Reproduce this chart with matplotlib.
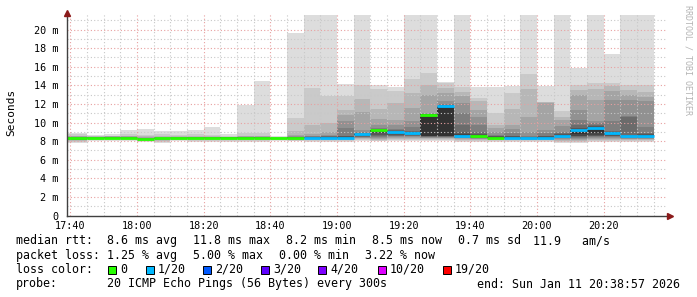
import numpy as np
import matplotlib
matplotlib.use("Agg")
import matplotlib.pyplot as plt
from matplotlib.patches import Rectangle

# minutes after 17:40 where each 5-minute column starts (first one begins at the left edge)
col_start = [-1, 5, 10, 15, 20, 25, 30, 35, 40, 45, 50, 55, 60, 65, 70, 75, 80, 85,
             90, 95, 100, 105, 110, 115, 120, 125, 130, 135, 140, 145, 150, 155, 160, 165, 170]

# median rtt per column (ms) and lost pings out of 20
median = [8.30, 8.33, 8.35, 8.35, 8.20, 8.30, 8.33, 8.35, 8.35, 8.37, 8.37, 8.37,
          8.30, 8.30, 8.35, 8.35, 8.35, 8.73, 9.16, 8.98, 8.90, 10.84, 11.77, 8.58,
          8.50, 8.37, 8.37, 8.30, 8.37, 8.58, 9.23, 9.40, 8.87, 8.50, 8.53]
loss = [0, 0, 0, 0, 0, 0, 0, 0, 0, 0, 0, 0,
        0, 0, 1, 1, 1, 1, 0, 1, 1, 0, 1, 1,
        0, 0, 1, 1, 1, 1, 1, 1, 1, 1, 1]

# sorted pings, upper half (ping 20 down to ping 11)
pings_hi = [
    [8.84, 8.72, 8.60, 8.52, 8.46, 8.42, 8.39, 8.37, 8.35, 8.33],
    [8.66, 8.55, 8.50, 8.46, 8.43, 8.41, 8.39, 8.37, 8.36, 8.35],
    [8.76, 8.55, 8.52, 8.50, 8.48, 8.45, 8.42, 8.40, 8.38, 8.37],
    [9.19, 8.80, 8.60, 8.50, 8.45, 8.42, 8.40, 8.38, 8.37, 8.36],
    [9.30, 8.70, 8.50, 8.40, 8.35, 8.30, 8.27, 8.25, 8.23, 8.22],
    [9.08, 8.80, 8.55, 8.45, 8.40, 8.37, 8.35, 8.33, 8.32, 8.31],
    [9.08, 8.70, 8.50, 8.45, 8.41, 8.39, 8.37, 8.36, 8.35, 8.34],
    [9.20, 8.75, 8.55, 8.48, 8.44, 8.41, 8.39, 8.38, 8.37, 8.36],
    [9.55, 8.65, 8.50, 8.46, 8.43, 8.41, 8.39, 8.38, 8.37, 8.36],
    [8.80, 8.55, 8.45, 8.43, 8.42, 8.41, 8.40, 8.39, 8.38, 8.38],
    [11.88, 8.85, 8.60, 8.50, 8.45, 8.42, 8.40, 8.39, 8.38, 8.38],
    [14.50, 8.85, 8.60, 8.50, 8.45, 8.42, 8.40, 8.39, 8.38, 8.38],
    [8.55, 8.48, 8.44, 8.40, 8.37, 8.35, 8.34, 8.33, 8.32, 8.31],
    [19.66, 10.50, 9.10, 8.70, 8.55, 8.48, 8.44, 8.40, 8.37, 8.35],
    [21.56, 13.70, 9.70, 8.80, 8.60, 8.50, 8.45, 8.42, 8.40, 8.38],
    [21.56, 12.85, 10.00, 9.00, 8.70, 8.60, 8.50, 8.45, 8.42, 8.40],
    [14.10, 12.80, 11.30, 10.80, 10.20, 9.40, 8.60, 8.50, 8.45, 8.40],
    [21.56, 14.00, 12.50, 11.10, 9.20, 9.00, 8.85, 8.80, 8.78, 8.76],
    [14.00, 13.60, 11.50, 10.40, 9.70, 9.40, 9.30, 9.25, 9.20, 9.17],
    [13.85, 13.40, 12.10, 10.30, 9.70, 9.30, 9.15, 9.10, 9.05, 9.02],
    [21.56, 14.70, 13.20, 11.60, 10.20, 9.50, 9.10, 9.00, 8.96, 8.93],
    [21.56, 15.30, 14.00, 13.00, 11.00, 10.95, 10.92, 10.90, 10.88, 10.86],
    [14.35, 14.20, 13.70, 13.20, 12.30, 12.00, 11.90, 11.85, 11.82, 11.80],
    [21.56, 13.80, 13.30, 12.90, 12.10, 11.00, 9.70, 9.00, 8.80, 8.65],
    [13.85, 12.60, 12.30, 11.30, 10.60, 9.70, 9.00, 8.80, 8.70, 8.60],
    [13.85, 11.00, 9.70, 9.40, 9.00, 8.70, 8.60, 8.50, 8.45, 8.40],
    [13.90, 13.20, 11.50, 9.70, 9.30, 8.90, 8.60, 8.50, 8.45, 8.40],
    [21.56, 15.20, 13.60, 10.60, 9.00, 8.60, 8.45, 8.40, 8.37, 8.35],
    [13.90, 12.25, 12.20, 12.15, 9.20, 8.90, 8.60, 8.50, 8.45, 8.40],
    [21.56, 11.20, 10.60, 10.30, 9.60, 9.00, 8.85, 8.75, 8.70, 8.65],
    [15.90, 14.00, 13.50, 13.00, 11.30, 10.30, 9.70, 9.40, 9.35, 9.30],
    [21.56, 14.30, 13.60, 12.40, 10.20, 9.90, 9.70, 9.60, 9.50, 9.45],
    [17.37, 14.30, 13.90, 13.40, 12.40, 10.20, 9.10, 9.00, 8.97, 8.93],
    [21.56, 14.00, 13.50, 13.00, 12.40, 10.70, 10.60, 8.70, 8.60, 8.56],
    [21.56, 14.00, 13.30, 12.70, 12.30, 9.50, 8.90, 8.80, 8.70, 8.62],
]

# sorted pings, lower half (ping 1 up to ping 10)
pings_lo = [
    [7.83, 7.95, 8.02, 8.08, 8.12, 8.16, 8.20, 8.23, 8.26, 8.28],
    [8.05, 8.10, 8.15, 8.20, 8.23, 8.26, 8.28, 8.30, 8.31, 8.32],
    [8.05, 8.12, 8.18, 8.22, 8.25, 8.28, 8.30, 8.32, 8.33, 8.34],
    [8.05, 8.12, 8.18, 8.22, 8.25, 8.28, 8.30, 8.32, 8.33, 8.34],
    [7.95, 8.00, 8.05, 8.08, 8.10, 8.13, 8.15, 8.17, 8.18, 8.19],
    [7.80, 7.90, 8.00, 8.10, 8.15, 8.20, 8.24, 8.27, 8.28, 8.29],
    [8.00, 8.08, 8.14, 8.20, 8.24, 8.27, 8.29, 8.30, 8.31, 8.32],
    [7.95, 8.05, 8.12, 8.18, 8.22, 8.26, 8.29, 8.31, 8.33, 8.34],
    [7.95, 8.05, 8.12, 8.18, 8.22, 8.26, 8.29, 8.31, 8.33, 8.34],
    [7.90, 8.00, 8.10, 8.18, 8.24, 8.28, 8.31, 8.33, 8.35, 8.36],
    [7.90, 8.00, 8.10, 8.18, 8.24, 8.28, 8.31, 8.33, 8.35, 8.36],
    [7.90, 8.00, 8.10, 8.18, 8.24, 8.28, 8.31, 8.33, 8.35, 8.36],
    [8.00, 8.08, 8.14, 8.19, 8.22, 8.25, 8.27, 8.28, 8.29, 8.30],
    [8.00, 8.06, 8.12, 8.17, 8.21, 8.24, 8.26, 8.28, 8.29, 8.30],
    [7.95, 8.05, 8.12, 8.18, 8.22, 8.26, 8.29, 8.31, 8.33, 8.34],
    [7.95, 8.05, 8.12, 8.18, 8.22, 8.26, 8.29, 8.31, 8.33, 8.34],
    [7.95, 8.05, 8.12, 8.18, 8.22, 8.26, 8.29, 8.31, 8.33, 8.34],
    [8.00, 8.10, 8.20, 8.30, 8.35, 8.40, 8.45, 8.50, 8.60, 8.70],
    [8.00, 8.05, 8.10, 8.20, 8.30, 8.40, 8.50, 8.70, 8.90, 9.10],
    [8.00, 8.10, 8.20, 8.30, 8.40, 8.50, 8.60, 8.70, 8.80, 8.95],
    [8.00, 8.10, 8.20, 8.30, 8.40, 8.50, 8.60, 8.70, 8.80, 8.88],
    [8.00, 8.10, 8.20, 8.30, 8.35, 8.40, 8.45, 8.50, 8.55, 8.60],
    [8.00, 8.10, 8.20, 8.30, 8.35, 8.40, 8.45, 8.50, 8.55, 8.60],
    [7.95, 8.05, 8.15, 8.25, 8.32, 8.38, 8.44, 8.50, 8.54, 8.56],
    [7.95, 8.05, 8.15, 8.22, 8.28, 8.34, 8.38, 8.42, 8.46, 8.48],
    [7.95, 8.05, 8.12, 8.18, 8.22, 8.26, 8.29, 8.31, 8.34, 8.36],
    [7.95, 8.05, 8.12, 8.18, 8.22, 8.26, 8.29, 8.31, 8.34, 8.36],
    [7.95, 8.05, 8.10, 8.15, 8.19, 8.22, 8.25, 8.27, 8.28, 8.29],
    [7.95, 8.05, 8.12, 8.18, 8.22, 8.26, 8.29, 8.31, 8.34, 8.36],
    [7.85, 7.95, 8.05, 8.15, 8.25, 8.35, 8.42, 8.48, 8.52, 8.56],
    [7.80, 7.95, 8.05, 8.15, 8.25, 8.35, 8.45, 8.55, 8.60, 8.80],
    [7.90, 8.00, 8.10, 8.20, 8.30, 8.40, 8.50, 8.60, 8.70, 8.90],
    [7.90, 8.00, 8.10, 8.20, 8.30, 8.40, 8.50, 8.60, 8.70, 8.80],
    [7.90, 8.00, 8.10, 8.20, 8.28, 8.34, 8.40, 8.44, 8.47, 8.49],
    [7.90, 8.00, 8.10, 8.20, 8.28, 8.34, 8.40, 8.45, 8.49, 8.51],
]

loss_levels = ["0", "1/20", "2/20", "3/20", "4/20", "10/20", "19/20"]
loss_colors = ["#26ff00", "#00b8ff", "#0059ff", "#5e00ff", "#7e00ff", "#dd00ff", "#ff0000"]

time_labels = ["17:40", "18:00", "18:20", "18:40", "19:00", "19:20", "19:40", "20:00", "20:20"]
ytick_vals = [0, 2, 4, 6, 8, 10, 12, 14, 16, 18, 20]
ytick_labels = ["0", "2 m", "4 m", "6 m", "8 m", "10 m", "12 m", "14 m", "16 m", "18 m", "20 m"]

legend_rows = [
    [("median rtt:", 16), ("8.6 ms avg", 107), ("11.8 ms max", 193), ("8.2 ms min", 286),
     ("8.5 ms now", 372), ("0.7 ms sd", 458), ("11.9   am/s", 533)],
    [("packet loss:", 16), ("1.25 % avg", 107), ("5.00 % max", 193), ("0.00 % min", 279),
     ("3.22 % now", 365)],
]
probe_text = "20 ICMP Echo Pings (56 Bytes) every 300s"
end_text = "end: Sun Jan 11 20:38:57 2026"

W, H = 697, 297
MONO = "DejaVu Sans Mono"
LFS = 8.4  # legend font size

fig = plt.figure(figsize=(W / 100, H / 100), dpi=100)
fig.patch.set_facecolor("white")
ax = fig.add_axes([67 / W, (H - 215.5) / H, 600 / W, 202.7 / H])
ax.set_xlim(-1, 179)
ax.set_ylim(0, 21.8)

# smoke: band i spans ping i .. ping (21-i), darker towards the median
left = np.array(col_start, dtype=float)
right = np.array(col_start[1:] + [col_start[-1] + 5], dtype=float)
hi = np.array(pings_hi)
lo = np.array(pings_lo)
for i in range(10):
    shade = int(190 / 10 * (10 - (i + 1))) + 50
    col = "#%02x%02x%02x" % (shade, shade, shade)
    bottom = lo[:, i]
    top = hi[:, i]
    ax.bar(left, top - bottom, width=right - left, bottom=bottom, align="edge",
           color=col, linewidth=0, zorder=1)

# median line coloured by loss
mcolors = [loss_colors[min(l, 1)] if l < 2 else loss_colors[2] for l in loss]
ax.hlines(median, left, right, colors=mcolors, linewidth=2.0, zorder=4)

# grid (drawn on top like rrdtool)
for m in np.arange(0, 180, 5):
    if m % 20 == 0:
        continue
    ax.axvline(m, color="#c8c8c8", lw=0.8, ls=(0, (1, 2)), zorder=3)
for v in np.arange(1, 22, 1):
    if v % 2 == 0:
        continue
    ax.axhline(v, color="#c8c8c8", lw=0.8, ls=(0, (1, 2)), zorder=3)
for m in np.arange(0, 180, 20):
    ax.axvline(m, color="#e8a0a0", lw=0.8, ls=(0, (1, 2)), zorder=3)
for v in np.arange(2, 22, 2):
    ax.axhline(v, color="#e8a0a0", lw=0.8, ls=(0, (1, 2)), zorder=3)

for s in ["top", "right"]:
    ax.spines[s].set_visible(False)
for s in ["left", "bottom"]:
    ax.spines[s].set_color("#404040")
    ax.spines[s].set_linewidth(1.0)
    ax.spines[s].set_zorder(5)

ax.set_xticks(np.arange(0, 180, 20))
ax.set_xticklabels(time_labels, family=MONO, fontsize=7.3)
ax.set_yticks(ytick_vals)
ax.set_yticklabels(ytick_labels, family=MONO, fontsize=7.3)
ax.tick_params(axis="both", length=0, pad=4, colors="#000000")
ax.tick_params(axis="y", pad=6)

# axis arrows
ax.plot([0], [1.0], marker="^", color="#8b1a1a", ms=4, transform=ax.transAxes, clip_on=False, zorder=6)
ax.plot([1.005], [0], marker=">", color="#8b1a1a", ms=4, transform=ax.transAxes, clip_on=False, zorder=6)

fig.text(11 / W, 1 - 112 / H, "Seconds", rotation=90, ha="center", va="center",
         family=MONO, fontsize=8)
fig.text(688 / W, 1 - 5 / H, "RRDTOOL / TOBI OETIKER", rotation=270, ha="center", va="top",
         family=MONO, fontsize=6, color="#b4b4b4")

row_y = [240.7, 255.7, 269.5, 284]
for row, y in zip(legend_rows, row_y):
    for txt, x in row:
        fig.text(x / W, 1 - y / H, txt, ha="left", va="center", family=MONO, fontsize=LFS)

fig.text(16 / W, 1 - row_y[2] / H, "loss color:", ha="left", va="center", family=MONO, fontsize=LFS)
box_x = [108, 146, 203, 261, 318, 378, 443]
for lbl, c, bx in zip(loss_levels, loss_colors, box_x):
    fig.add_artist(Rectangle((bx / W, 1 - (row_y[2] + 4) / H), 8 / W, 8 / H,
                             facecolor=c, edgecolor="black", lw=0.7, transform=fig.transFigure))
    fig.text((bx + 12) / W, 1 - row_y[2] / H, lbl, ha="left", va="center", family=MONO, fontsize=LFS)

fig.text(16 / W, 1 - row_y[3] / H, "probe:", ha="left", va="center", family=MONO, fontsize=LFS)
fig.text(107 / W, 1 - row_y[3] / H, probe_text, ha="left", va="center", family=MONO, fontsize=LFS)
fig.text(680 / W, 1 - row_y[3] / H, end_text, ha="right", va="center", family=MONO, fontsize=LFS)

fig.savefig("out.png", dpi=100, facecolor="white")
